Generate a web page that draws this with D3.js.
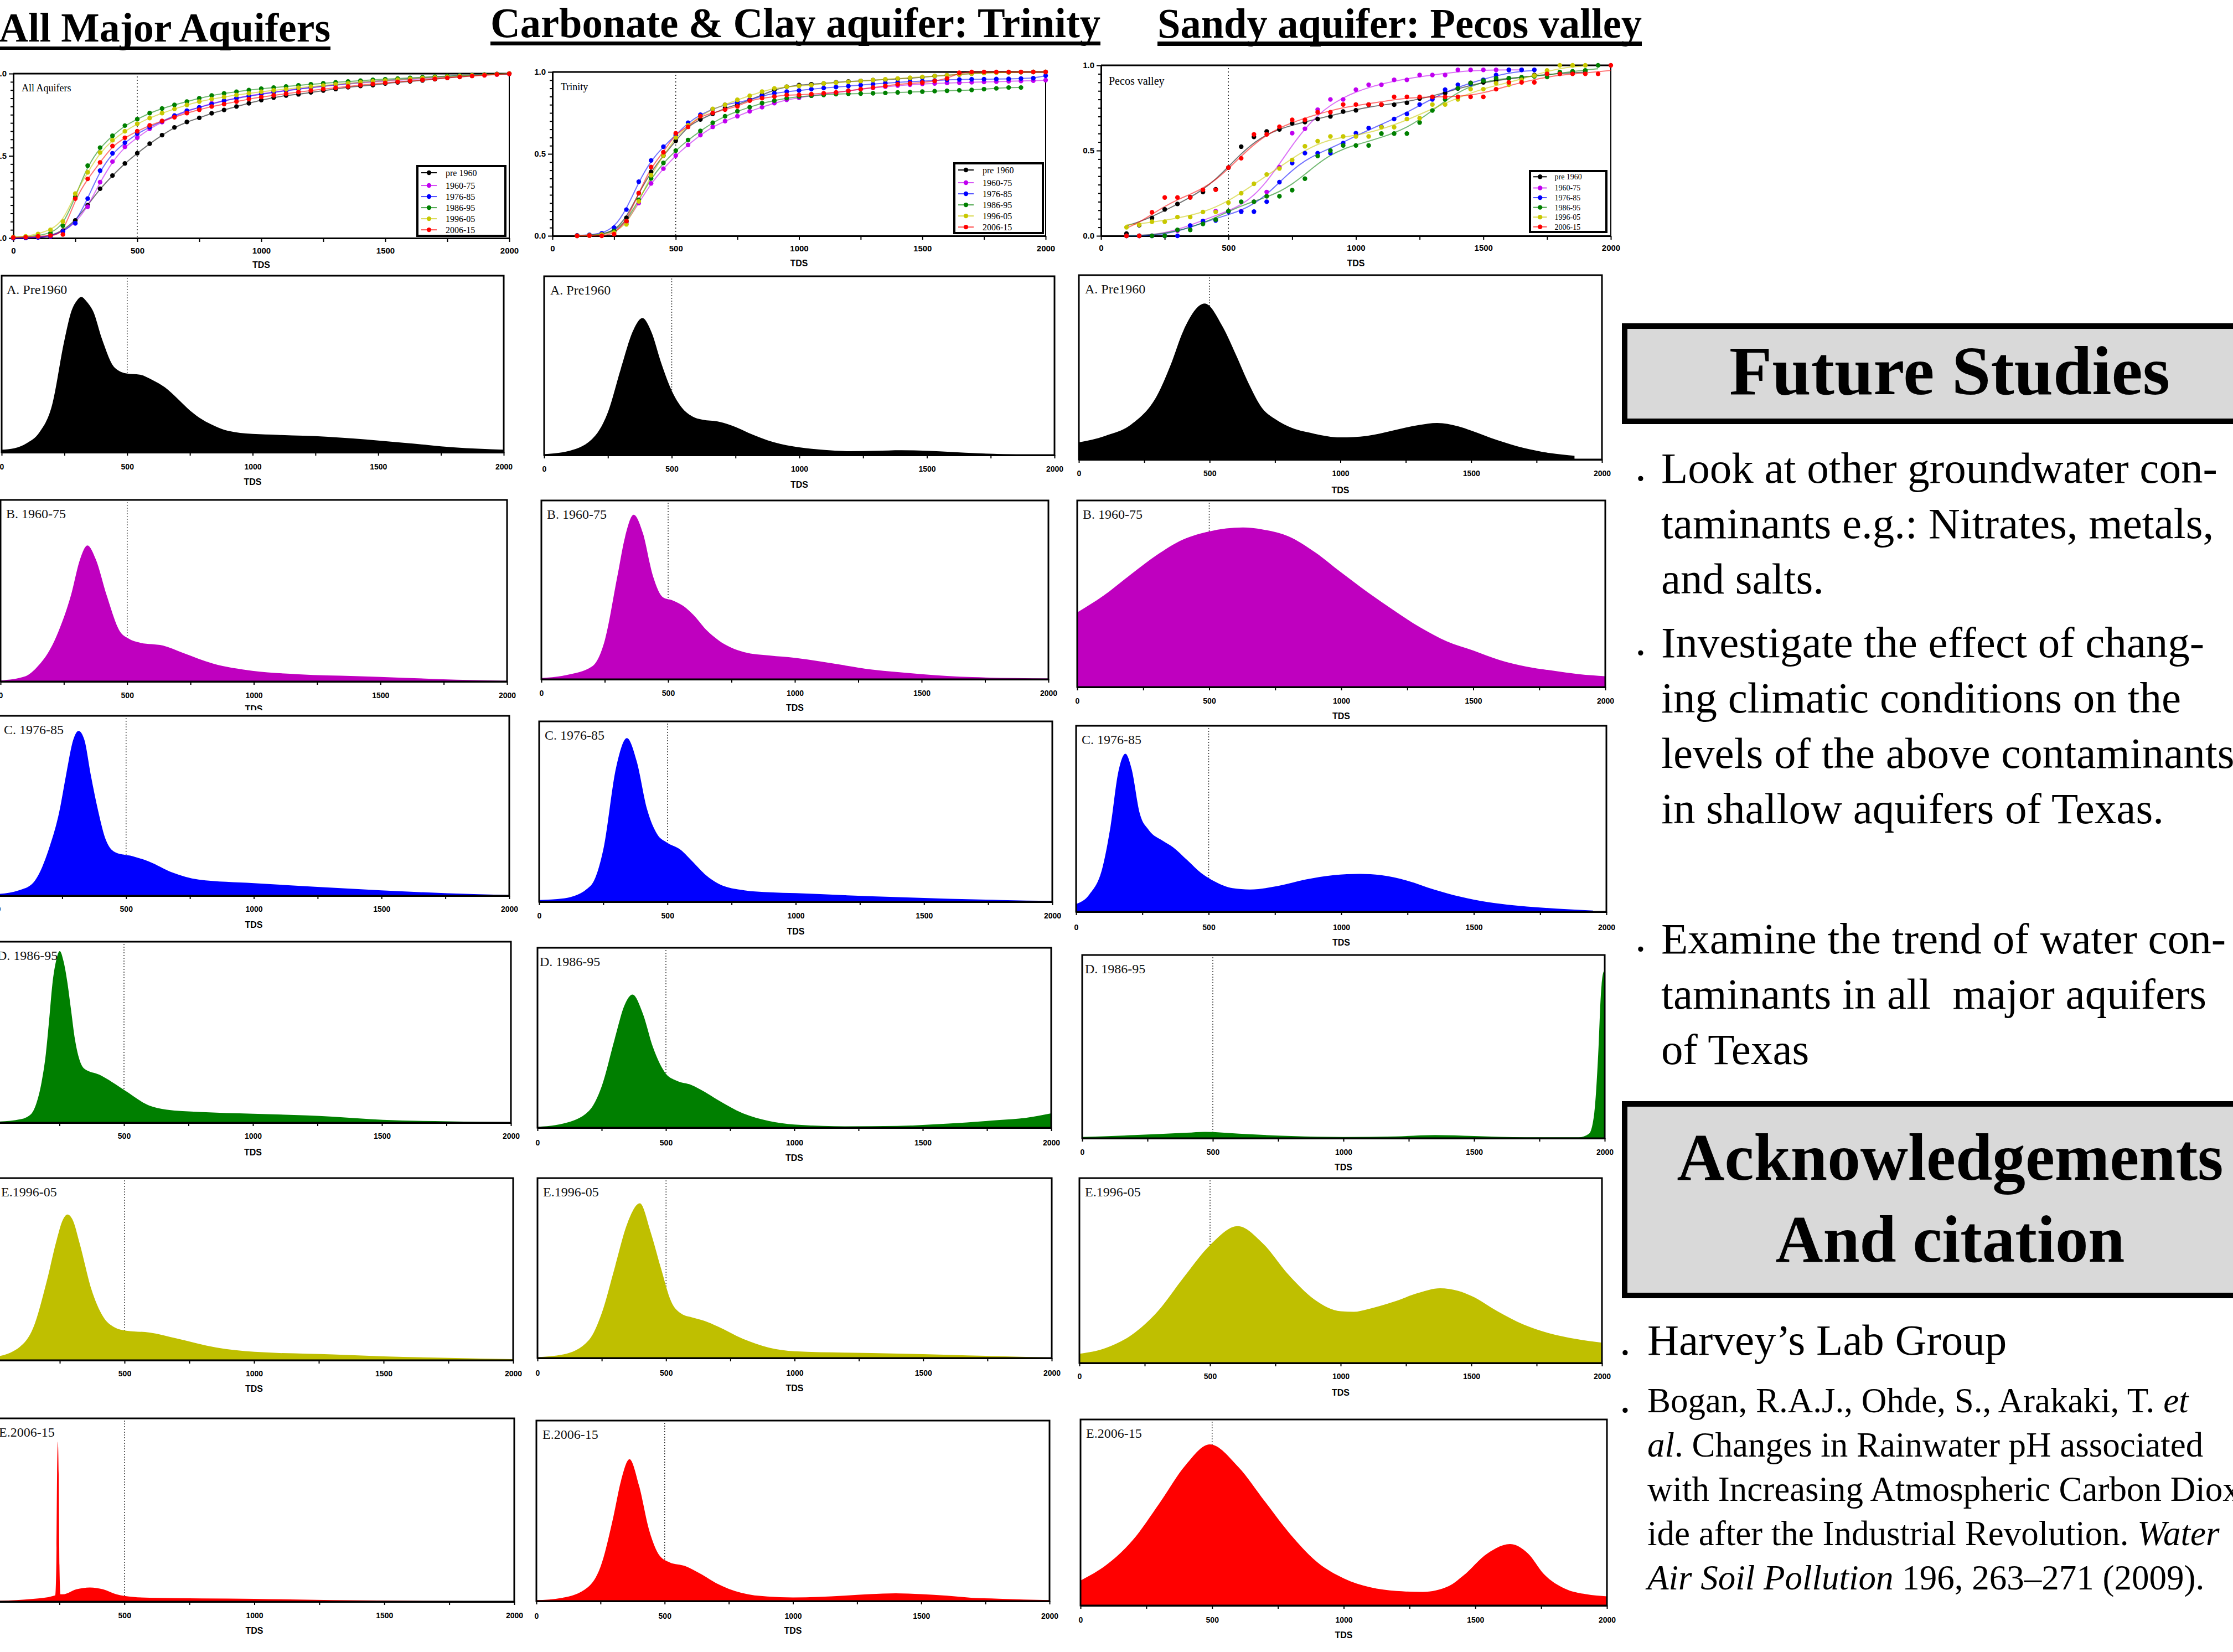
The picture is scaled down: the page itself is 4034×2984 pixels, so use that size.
<!DOCTYPE html>
<html>
<head>
<meta charset="utf-8">
<title>TDS distributions in Texas aquifers</title>
<script src="https://cdn.jsdelivr.net/npm/d3@7/dist/d3.min.js"></script>
<style>
  html, body { margin: 0; padding: 0; background: #ffffff; }
  svg { display: block; }
  text { white-space: pre; }
</style>
</head>
<body>
<svg id="poster" width="4034" height="2984" viewBox="0 0 4034 2984"></svg>
<script>
// ------------------------------------------------------------------
// Data
// ------------------------------------------------------------------
const periods = ["pre 1960", "1960-75", "1976-85", "1986-95", "1996-05", "2006-15"];
const panelTitles = ["A. Pre1960", "B. 1960-75", "C. 1976-85", "D. 1986-95", "E.1996-05", "E.2006-15"];
const headings = ["All Major Aquifers", "Carbonate & Clay aquifer: Trinity", "Sandy aquifer: Pecos valley"];
const insetLabels = ["All Aquifers", "Trinity", "Pecos valley"];

const cdfColors = ["#000000", "#c000f0", "#0000ff", "#008000", "#c8c800", "#ff0000"];
const densityColors = ["#000000", "#bf00bf", "#0000ff", "#007f00", "#bfbf00", "#ff0000"];

const tdsLabelTicks = [0, 500, 1000, 1500, 2000];
const tdsTicks = [0, 250, 500, 750, 1000, 1250, 1500, 1750, 2000];
const cdfYTicks = [0, 0.05, 0.1, 0.15, 0.2, 0.25, 0.3, 0.35, 0.4, 0.45, 0.5,
                   0.55, 0.6, 0.65, 0.7, 0.75, 0.8, 0.85, 0.9, 0.95, 1];
const cdfYLabels = [0, 0.5, 1];

// TDS bins of the cumulative curves
const cdfTds = [0, 50, 100, 150, 200, 250, 300, 350, 400, 450, 500, 550, 600, 650, 700, 750,
                800, 850, 900, 950, 1000, 1050, 1100, 1150, 1200, 1250, 1300, 1350, 1400, 1450,
                1500, 1550, 1600, 1650, 1700, 1750, 1800, 1850, 1900, 1950, 2000];

// Cumulative fraction of wells, all major aquifers (one row per period)
const cdfAll = [
  [0, .002, .005, .013, .045, .107, .20, .30, .38, .454, .516, .574, .626, .673, .706, .731, .759, .779, .80, .82, .839, .854, .867, .874, .886, .897, .906, .917, .925, .93, .94, .947, .953, .959, .966, .975, .981, .987, .992, .998, 1.0],
  [0, .001, .004, .01, .04, .09, .19, .34, .465, .555, .61, .665, .705, .74, .77, .795, .82, .835, .852, .866, .877, .888, .898, .907, .915, .923, .93, .937, .943, .949, .955, .96, .965, .97, .975, .98, .984, .988, .991, .995, .998],
  [0, .001, .004, .012, .04, .09, .24, .41, .515, .58, .635, .675, .71, .745, .775, .795, .815, .835, .85, .862, .875, .886, .896, .906, .915, .924, .932, .94, .947, .953, .959, .965, .97, .975, .98, .984, .988, .991, .994, .997, .999],
  [.005, .008, .015, .03, .075, .25, .44, .55, .622, .684, .723, .76, .788, .81, .83, .85, .867, .88, .89, .90, .908, .915, .922, .929, .935, .941, .947, .952, .957, .962, .966, .97, .974, .978, .982, .985, .988, .991, .994, .997, 1.0],
  [.005, .01, .025, .05, .1, .27, .4, .52, .595, .65, .695, .73, .76, .785, .81, .83, .845, .858, .87, .88, .89, .898, .906, .914, .921, .928, .935, .941, .947, .953, .958, .963, .968, .973, .977, .981, .985, .989, .993, .997, 1.0],
  [.003, .005, .01, .015, .022, .24, .36, .46, .56, .61, .65, .685, .712, .735, .76, .78, .8, .815, .83, .845, .858, .868, .878, .888, .897, .906, .914, .922, .93, .937, .944, .95, .956, .962, .968, .974, .98, .986, .99, .995, .999]
];

// Cumulative fraction of wells, Trinity aquifer
const cdfTrinity = [
  [null, null, .002, .005, .01, .03, .11, .26, .39, .49, .58, .67, .71, .745, .78, .8, .83, .86, .89, .91, .92, .925, .93, .937, .942, .945, .95, .953, .958, .962, .967, .975, .98, .985, .99, .995, .997, .998, .999, 1.0, 1.0],
  [null, null, 0, .002, .008, .025, .08, .2, .32, .41, .49, .555, .615, .665, .7, .73, .76, .785, .81, .83, .842, .855, .865, .875, .885, .895, .903, .91, .917, .922, .927, .93, .933, .935, .937, .939, .941, .943, .945, .947, .95],
  [null, null, .002, .005, .015, .05, .16, .33, .46, .544, .615, .69, .739, .773, .80, .814, .83, .853, .87, .88, .887, .895, .902, .908, .914, .92, .926, .932, .937, .941, .944, .948, .952, .954, .955, .956, .957, .958, .96, .962, .977],
  [null, null, 0, .002, .008, .03, .09, .22, .35, .445, .52, .585, .64, .69, .73, .76, .785, .81, .825, .84, .85, .855, .86, .865, .867, .868, .87, .872, .875, .877, .88, .883, .885, .888, .89, .895, .9, .905, .905, null, null],
  [null, null, 0, .002, .008, .02, .07, .21, .37, .49, .6, .675, .73, .775, .8, .83, .855, .88, .9, .91, .915, .92, .93, .935, .94, .945, .95, .955, .96, .965, .97, .975, .98, .985, .99, .993, .996, .998, .999, 1.0, 1.0],
  [null, null, 0, .002, 0, .01, .09, .26, .42, .51, .626, .665, .73, .75, .77, .79, .825, .84, .85, .86, .86, .865, .87, .875, .885, .895, .905, .915, .925, .93, .935, .945, .96, .995, 1.0, 1.0, 1.0, 1.0, 1.0, 1.0, 1.0]
];

// Cumulative fraction of wells, Pecos valley aquifer
const cdfPecos = [
  [null, null, .013, .062, .105, .155, .187, .227, .257, .273, .40, .523, .58, .612, .624, .66, .667, .685, .70, .729, .736, .769, .769, .769, .78, .805, .813, .837, .864, .897, .90, .911, .924, .924, .943, .95, .951, .959, .967, null, null],
  [null, null, 0, 0, 0, 0, .03, .06, .08, .145, .145, .145, .2, .257, .403, .602, .628, .74, .80, .80, .857, .886, .886, .915, .915, .943, .943, .943, .973, .973, .973, .973, .973, .973, null, null, null, null, null, null, null],
  [null, null, 0, 0, 0, 0, 0, .06, .087, .09, .142, .142, .142, .2, .315, .427, .485, .485, .485, .544, .602, .632, .64, .685, .715, .77, .80, .857, .886, .89, .915, .943, .973, .973, .973, null, null, null, null, null, null],
  [null, null, 0, 0, 0, 0, .035, .035, .07, .095, .145, .2, .2, .232, .232, .268, .335, .468, .5, .53, .53, .53, .6, .6, .6, .665, .735, .80, .865, .895, .91, .925, .925, .93, .935, .932, .96, .965, .97, 1.0, null],
  [null, null, .05, .065, .083, .083, .11, .11, .14, .14, .195, .25, .305, .36, .395, .445, .525, .555, .583, .583, .583, .583, .637, .637, .685, .69, .77, .77, .80, .86, .86, .895, .886, .915, .94, .97, 1.0, 1.0, 1.0, null, null],
  [null, null, 0, 0, .138, .225, .225, .225, .27, .27, .40, .455, .595, .595, .64, .68, .68, .725, .725, .77, .77, .77, .77, .815, .815, .815, .815, .815, .815, .815, .815, .86, .9, .9, .9, .95, .95, .95, .95, .95, 1.0]
];

// Relative density of TDS ([TDS, density]) per period, all major aquifers
const densityAll = [
  [[0,.015],[50,.023],[100,.052],[150,.112],[200,.263],[250,.635],[278,.80],[300,.86],[317,.88],[335,.86],[350,.833],[364,.80],[400,.64],[450,.48],[500,.446],[550,.44],[600,.41],[650,.368],[700,.305],[750,.237],[800,.185],[850,.148],[900,.122],[1000,.104],[1100,.099],[1200,.094],[1300,.088],[1400,.078],[1500,.067],[1600,.054],[1700,.041],[1800,.028],[1900,.02],[2000,.015]],
  [[0,.006],[100,.03],[144,.079],[196,.178],[229,.277],[278,.475],[314,.673],[343,.749],[376,.673],[419,.475],[471,.277],[504,.238],[550,.214],[641,.198],[720,.158],[838,.099],[995,.059],[1178,.04],[1400,.03],[1600,.02],[1800,.01],[2000,.004]],
  [[0,.01],[80,.03],[135,.07],[200,.27],[239,.47],[265,.67],[294,.87],[314,.916],[336,.87],[362,.67],[391,.47],[421,.31],[460,.24],[525,.22],[590,.19],[680,.13],[784,.09],[1000,.07],[1239,.05],[1499,.03],[1758,.014],[2000,.004]],
  [[0,.005],[100,.02],[141,.05],[161,.11],[180,.22],[197,.38],[210,.57],[222,.76],[236,.89],[251,.948],[266,.89],[280,.78],[295,.62],[310,.46],[325,.36],[345,.30],[405,.265],[502,.18],[598,.095],[663,.073],[792,.06],[1000,.05],[1307,.034],[1504,.016],[1755,.008],[2000,.003]],
  [[0,.018],[96,.074],[148,.18],[199,.43],[238,.66],[260,.765],[280,.80],[300,.77],[327,.64],[372,.39],[417,.24],[462,.18],[507,.162],[597,.152],[700,.12],[854,.07],[1002,.046],[1304,.032],[1500,.021],[1752,.013],[2000,.006]],
  [[0,.004],[149,.015],[226,.031],[234,.035],[238,.2],[241,.7],[244,.873],[247,.7],[250,.2],[254,.04],[264,.04],[315,.067],[367,.077],[418,.067],[469,.04],[500,.031],[597,.021],[1000,.015],[1300,.008],[2000,.002]]
];

// Relative density of TDS, Trinity aquifer
const densityTrinity = [
  [[0,.005],[100,.024],[200,.108],[250,.24],[300,.48],[350,.70],[385,.766],[420,.69],[460,.51],[500,.36],[540,.265],[580,.217],[620,.198],[680,.188],[750,.157],[800,.125],[900,.072],[1000,.043],[1100,.029],[1200,.022],[1300,.024],[1400,.027],[1500,.024],[1600,.017],[1700,.01],[1800,.005],[2000,0]],
  [[0,.007],[100,.024],[200,.072],[250,.217],[300,.578],[330,.795],[364,.92],[400,.82],[440,.578],[480,.458],[520,.44],[560,.41],[600,.36],[650,.277],[700,.217],[800,.152],[900,.133],[1000,.12],[1100,.10],[1200,.077],[1300,.055],[1400,.041],[1500,.029],[1700,.012],[2000,.005]],
  [[0,.01],[100,.02],[200,.088],[250,.29],[300,.745],[342,.907],[380,.78],[420,.516],[460,.375],[500,.327],[550,.29],[600,.22],[650,.148],[700,.10],[800,.064],[900,.053],[1000,.048],[1200,.036],[1400,.026],[1600,.017],[1800,.01],[2000,.005]],
  [[0,.005],[100,.023],[200,.093],[250,.23],[300,.49],[340,.685],[370,.74],[410,.635],[450,.446],[500,.30],[540,.262],[600,.237],[650,.20],[700,.156],[800,.08],[900,.038],[1000,.018],[1200,.008],[1400,.01],[1600,.023],[1800,.043],[1900,.055],[2000,.08]],
  [[0,.005],[100,.02],[200,.10],[250,.25],[300,.50],[350,.75],[398,.86],[440,.70],[480,.50],[520,.314],[560,.246],[600,.226],[650,.206],[700,.176],[800,.106],[900,.058],[1000,.038],[1200,.03],[1400,.025],[1600,.018],[1800,.01],[2000,.003]],
  [[0,.005],[100,.018],[200,.076],[250,.19],[300,.466],[330,.667],[363,.786],[400,.64],[440,.39],[480,.252],[520,.214],[580,.194],[640,.151],[700,.10],[800,.045],[900,.025],[1000,.02],[1100,.023],[1200,.03],[1300,.038],[1400,.043],[1500,.038],[1600,.03],[1700,.018],[1800,.013],[2000,.005]]
];

// Relative density of TDS, Pecos valley aquifer
const densityPecos = [
  [[0,.093],[100,.128],[200,.19],[300,.35],[350,.51],[400,.70],[481,.846],[550,.72],[600,.57],[650,.41],[700,.28],[750,.22],[800,.18],[900,.14],[1000,.12],[1100,.128],[1200,.157],[1300,.187],[1370,.198],[1450,.18],[1500,.157],[1600,.105],[1700,.063],[1800,.035],[1895,.02]],
  [[0,.40],[100,.49],[200,.60],[300,.706],[400,.79],[500,.834],[628,.855],[700,.845],[800,.808],[900,.723],[1000,.614],[1100,.508],[1200,.41],[1300,.319],[1400,.245],[1500,.196],[1600,.145],[1700,.11],[1800,.088],[1900,.069],[2000,.058]],
  [[0,.042],[50,.093],[100,.24],[130,.46],[159,.75],[186,.85],[209,.77],[240,.53],[274,.44],[327,.382],[366,.347],[419,.278],[472,.208],[524,.162],[590,.127],[656,.12],[762,.139],[867,.174],[972,.197],[1070,.204],[1150,.197],[1250,.167],[1350,.12],[1450,.081],[1550,.053],[1650,.035],[1750,.023],[1850,.014],[1950,.007]],
  [[0,.007],[200,.017],[400,.03],[470,.035],[600,.025],[800,.012],[1000,.007],[1200,.01],[1350,.017],[1500,.012],[1700,.005],[1900,.005],[1940,.025],[1960,.136],[1975,.457],[1985,.778],[1995,.906],[2000,.914]],
  [[0,.05],[100,.081],[200,.152],[300,.28],[400,.465],[500,.637],[606,.74],[700,.65],[800,.478],[900,.343],[1000,.28],[1050,.277],[1100,.29],[1200,.33],[1300,.38],[1380,.404],[1450,.39],[1500,.363],[1600,.28],[1700,.208],[1800,.16],[1900,.13],[2000,.11]],
  [[0,.134],[100,.22],[200,.354],[300,.55],[400,.756],[491,.866],[600,.744],[700,.56],[800,.378],[900,.232],[1000,.146],[1100,.098],[1200,.078],[1300,.073],[1400,.105],[1453,.159],[1546,.28],[1632,.33],[1700,.28],[1760,.17],[1850,.085],[1920,.061],[2000,.049]]
];

// Side-column text
const futureHeading = "Future Studies";
const futureStudies = [
  ["Look at other groundwater con-", "taminants e.g.: Nitrates, metals,", "and salts."],
  ["Investigate the effect of chang-", "ing climatic conditions on the", "levels of the above contaminants", "in shallow aquifers of Texas."],
  ["Examine the trend of water con-", "taminants in all  major aquifers", "of Texas"]
];
const ackHeading = ["Acknowledgements", "And citation"];
const ackGroup = "Harvey\u2019s Lab Group";
const citation = [
  [["Bogan, R.A.J., Ohde, S., Arakaki, T. ", false], ["et", true]],
  [["al", true], [". Changes in Rainwater pH associated", false]],
  [["with Increasing Atmospheric Carbon Diox-", false]],
  [["ide after the Industrial Revolution. ", false], ["Water", true]],
  [["Air Soil Pollution", true], [" 196, 263\u2013271 (2009).", false]]
];

// ------------------------------------------------------------------
// Layout
// ------------------------------------------------------------------
const SERIF = "'Liberation Serif','Times New Roman',serif";
const SANS = "'Liberation Sans',Arial,Helvetica,sans-serif";

const headingLayout = [
  { x: -2,   base: 75, size: 74, len: 599,  ulY: 84, ulH: 6 },
  { x: 886,  base: 67, size: 76, len: 1102, ulY: 75, ulH: 7 },
  { x: 2091, base: 68, size: 76, len: 875,  ulY: 75, ulH: 8 }
];

const cdfLayout = [
  { x0: 24,   x1: 920,  yTop: 133, yBot: 430, labelY: 452, tdsY: 478, insetX: 39,   insetY: 159, insetSize: 18,
    legend: { x: 752,  y: 298, w: 163, h: 130, font: 16 }, smooth: 0 },
  { x0: 998,  x1: 1889, yTop: 130, yBot: 426, labelY: 448, tdsY: 475, insetX: 1013, insetY: 157, insetSize: 18,
    legend: { x: 1722, y: 293, w: 164, h: 130, font: 16 }, smooth: 0 },
  { x0: 1989, x1: 2910, yTop: 118, yBot: 426, labelY: 447, tdsY: 475, insetX: 2003, insetY: 146, insetSize: 20,
    legend: { x: 2762, y: 307, w: 142, h: 114, font: 14 }, smooth: 1.6 }
];

const densityLayout = [
  [
    { x0: 3,   x1: 910, top: 498,  bottom: 817,  labelY: 843,  tdsY: 870,  titleX: 12 },
    { x0: 1,   x1: 916, top: 903,  bottom: 1231, labelY: 1256, tdsY: 1280, titleX: 11 },
    { x0: -3,  x1: 920, top: 1293, bottom: 1618, labelY: 1642, tdsY: 1670, titleX: 7 },
    { x0: -9,  x1: 923, top: 1701, bottom: 2028, labelY: 2052, tdsY: 2081, titleX: -5 },
    { x0: -9,  x1: 927, top: 2128, bottom: 2457, labelY: 2481, tdsY: 2508, titleX: 2 },
    { x0: -10, x1: 929, top: 2562, bottom: 2893, labelY: 2918, tdsY: 2945, titleX: -2 }
  ],
  [
    { x0: 983, x1: 1905, top: 499,  bottom: 822,  labelY: 847,  tdsY: 875,  titleX: 994 },
    { x0: 978, x1: 1894, top: 904,  bottom: 1227, labelY: 1252, tdsY: 1278, titleX: 988 },
    { x0: 974, x1: 1901, top: 1303, bottom: 1629, labelY: 1654, tdsY: 1682, titleX: 984 },
    { x0: 971, x1: 1899, top: 1712, bottom: 2037, labelY: 2064, tdsY: 2091, titleX: 975 },
    { x0: 971, x1: 1900, top: 2128, bottom: 2453, labelY: 2480, tdsY: 2507, titleX: 981 },
    { x0: 969, x1: 1896, top: 2566, bottom: 2892, labelY: 2919, tdsY: 2945, titleX: 980 }
  ],
  [
    { x0: 1949, x1: 2894, top: 497,  bottom: 830,  labelY: 855,  tdsY: 885,  titleX: 1960 },
    { x0: 1946, x1: 2900, top: 904,  bottom: 1241, labelY: 1266, tdsY: 1293, titleX: 1956 },
    { x0: 1944, x1: 2902, top: 1311, bottom: 1647, labelY: 1675, tdsY: 1702, titleX: 1954 },
    { x0: 1955, x1: 2899, top: 1725, bottom: 2056, labelY: 2081, tdsY: 2108, titleX: 1960 },
    { x0: 1950, x1: 2894, top: 2128, bottom: 2462, labelY: 2486, tdsY: 2515, titleX: 1960 },
    { x0: 1952, x1: 2903, top: 2564, bottom: 2900, labelY: 2926, tdsY: 2953, titleX: 1962 }
  ]
];

// ------------------------------------------------------------------
// Drawing
// ------------------------------------------------------------------
const svg = d3.select("#poster");
svg.append("rect").attr("width", 4034).attr("height", 2984).attr("fill", "#ffffff");

function styleAxis(g, fontSize) {
  g.attr("font-family", null).attr("font-size", null);
  g.select(".domain").attr("stroke", "#000").attr("stroke-width", 3);
  g.selectAll(".tick line").attr("stroke", "#000").attr("stroke-width", 2);
  g.selectAll(".tick text")
    .attr("font-family", SANS).attr("font-weight", "bold")
    .attr("font-size", fontSize).attr("fill", "#000");
}

// Gaussian-weighted running mean over the defined bins (used as a fitted trend line)
function smoothSeries(vals, sigma) {
  if (!sigma) return vals;
  const r = Math.ceil(sigma * 2);
  return vals.map((v, k) => {
    if (v == null) return null;
    let sw = 0, s = 0;
    for (let j = -r; j <= r; j++) {
      const u = vals[k + j];
      if (u == null) continue;
      const w = Math.exp(-(j * j) / (2 * sigma * sigma));
      sw += w; s += w * u;
    }
    return s / sw;
  });
}

// Column headings
headings.forEach((h, i) => {
  const L = headingLayout[i];
  svg.append("text")
    .attr("x", L.x).attr("y", L.base)
    .attr("font-family", SERIF).attr("font-weight", "bold").attr("font-size", L.size)
    .attr("textLength", L.len).attr("lengthAdjust", "spacingAndGlyphs")
    .text(h);
  svg.append("rect").attr("x", L.x).attr("y", L.ulY).attr("width", L.len).attr("height", L.ulH).attr("fill", "#000");
});

// Cumulative distribution charts
function drawCdf(L, inset, series) {
  const g = svg.append("g");
  const x = d3.scaleLinear().domain([0, 2000]).range([L.x0, L.x1]);
  const y = d3.scaleLinear().domain([0, 1]).range([L.yBot, L.yTop]);

  g.append("line").attr("x1", L.x0).attr("x2", L.x1).attr("y1", y(1)).attr("y2", y(1))
    .attr("stroke", "#000").attr("stroke-width", 3);
  g.append("line").attr("x1", L.x1).attr("x2", L.x1).attr("y1", y(1)).attr("y2", y(0))
    .attr("stroke", "#000").attr("stroke-width", 2);

  g.append("line").attr("x1", x(500)).attr("x2", x(500)).attr("y1", y(1) + 5).attr("y2", y(0))
    .attr("stroke", "#222").attr("stroke-width", 1.5).attr("stroke-dasharray", "2,4");

  const xa = g.append("g").attr("transform", `translate(0,${L.yBot})`)
    .call(d3.axisBottom(x).tickValues(tdsTicks).tickSize(7).tickSizeOuter(0)
      .tickPadding(L.labelY - L.yBot - 7 - 5)
      .tickFormat(d => tdsLabelTicks.includes(d) ? String(d) : ""));
  styleAxis(xa, 15);

  g.append("text").attr("x", (L.x0 + L.x1) / 2).attr("y", L.tdsY).attr("dy", "0.36em")
    .attr("text-anchor", "middle").attr("font-family", SANS).attr("font-weight", "bold")
    .attr("font-size", 16).text("TDS");

  const ya = g.append("g").attr("transform", `translate(${L.x0},0)`)
    .call(d3.axisLeft(y).tickValues(cdfYTicks).tickSize(8).tickSizeOuter(0).tickPadding(4)
      .tickFormat(d => cdfYLabels.includes(d) ? d3.format(".1f")(d) : ""));
  styleAxis(ya, 15);
  ya.selectAll(".tick line").attr("x2", d => cdfYLabels.includes(d) ? -8 : -5);

  g.append("text").attr("x", L.insetX).attr("y", L.insetY).attr("dy", "0.35em")
    .attr("font-family", SERIF).attr("font-size", L.insetSize).text(inset);

  const line = d3.line()
    .defined(d => d[1] != null)
    .x(d => x(d[0])).y(d => y(d[1]))
    .curve(d3.curveBasis);

  series.forEach((vals, i) => {
    const fit = smoothSeries(vals, L.smooth);
    const pts = cdfTds.map((t, k) => [t, fit[k]]);
    g.append("path").attr("d", line(pts)).attr("fill", "none")
      .attr("stroke", cdfColors[i]).attr("stroke-width", 2).attr("stroke-opacity", 0.55);
  });
  series.forEach((vals, i) => {
    const pts = cdfTds.map((t, k) => [t, vals[k]]).filter(d => d[1] != null);
    g.append("g").selectAll("circle").data(pts).join("circle")
      .attr("cx", d => x(d[0])).attr("cy", d => y(d[1])).attr("r", 4.2)
      .attr("fill", cdfColors[i]);
  });

  // legend
  const lg = L.legend;
  const k = lg.h / 130;
  const leg = g.append("g");
  leg.append("rect").attr("x", lg.x + 2).attr("y", lg.y + 2).attr("width", lg.w - 4).attr("height", lg.h - 4)
    .attr("fill", "#fff").attr("stroke", "#000").attr("stroke-width", 4);
  periods.forEach((p, i) => {
    const ry = lg.y + lg.h * (i === 0 ? 0.108 : 0.285 + (i - 1) * 0.154);
    const mx = lg.x + 23 * k;
    leg.append("line").attr("x1", mx - 14 * k).attr("x2", mx + 14 * k).attr("y1", ry).attr("y2", ry)
      .attr("stroke", cdfColors[i]).attr("stroke-width", 2).attr("stroke-opacity", i === 0 ? 1 : 0.7);
    leg.append("circle").attr("cx", mx).attr("cy", ry).attr("r", 4.2).attr("fill", cdfColors[i]);
    leg.append("text").attr("x", lg.x + 53 * k).attr("y", ry).attr("dy", "0.35em")
      .attr("font-family", SERIF).attr("font-size", lg.font).text(p);
  });
}

drawCdf(cdfLayout[0], insetLabels[0], cdfAll);
drawCdf(cdfLayout[1], insetLabels[1], cdfTrinity);
drawCdf(cdfLayout[2], insetLabels[2], cdfPecos);

// Density panels
function drawDensity(L, title, pts, color) {
  const g = svg.append("g");
  const x = d3.scaleLinear().domain([0, 2000]).range([L.x0, L.x1]);
  const y = d3.scaleLinear().domain([0, 1]).range([L.bottom, L.top]);

  g.append("rect").attr("x", L.x0 - 3).attr("y", L.top - 10)
    .attr("width", L.x1 - L.x0 + 6).attr("height", L.bottom - L.top + 10).attr("fill", "#fff");

  g.append("line").attr("x1", x(500)).attr("x2", x(500)).attr("y1", L.top + 4).attr("y2", L.bottom)
    .attr("stroke", "#333").attr("stroke-width", 1.5).attr("stroke-dasharray", "2,3");

  const area = d3.area()
    .x(d => x(d[0])).y0(y(0)).y1(d => y(d[1]))
    .curve(d3.curveMonotoneX);
  g.append("path").datum(pts).attr("d", area).attr("fill", color);

  g.append("rect").attr("x", L.x0).attr("y", L.top)
    .attr("width", L.x1 - L.x0).attr("height", L.bottom - L.top)
    .attr("fill", "none").attr("stroke", "#000").attr("stroke-width", 3);

  const xa = g.append("g").attr("transform", `translate(0,${L.bottom})`)
    .call(d3.axisBottom(x).tickValues(tdsTicks).tickSize(6).tickSizeOuter(0)
      .tickPadding(L.labelY - L.bottom - 6 - 5)
      .tickFormat(d => tdsLabelTicks.includes(d) ? String(d) : ""));
  styleAxis(xa, 14);

  g.append("text").attr("x", (L.x0 + L.x1) / 2).attr("y", L.tdsY).attr("dy", "0.36em")
    .attr("text-anchor", "middle").attr("font-family", SANS).attr("font-weight", "bold")
    .attr("font-size", 16).text("TDS");

  g.append("text").attr("x", L.titleX).attr("y", L.top + 33)
    .attr("font-family", SERIF).attr("font-size", 24).attr("fill", "#111").text(title);
}

[densityAll, densityTrinity, densityPecos].forEach((col, c) => {
  col.forEach((pts, i) => drawDensity(densityLayout[c][i], panelTitles[i], pts, densityColors[i]));
});

// Side column: future studies
const side = svg.append("g");
side.append("rect").attr("x", 2935).attr("y", 589).attr("width", 1200).attr("height", 172)
  .attr("fill", "#d9d9d9").attr("stroke", "#000").attr("stroke-width", 10);
side.append("text").attr("x", 3522).attr("y", 712).attr("text-anchor", "middle")
  .attr("font-family", SERIF).attr("font-weight", "bold").attr("font-size", 124)
  .attr("textLength", 796).attr("lengthAdjust", "spacingAndGlyphs")
  .text(futureHeading);

const blockBase = [872, 1187, 1722];
futureStudies.forEach((block, b) => {
  side.append("text").attr("x", 2954).attr("y", blockBase[b] - 4)
    .attr("font-family", SERIF).attr("font-size", 79).text(".");
  block.forEach((ln, j) => {
    side.append("text").attr("x", 3001).attr("y", blockBase[b] + j * 100)
      .attr("font-family", SERIF).attr("font-size", 79).text(ln);
  });
});

// Side column: acknowledgements
side.append("rect").attr("x", 2935).attr("y", 1994).attr("width", 1200).attr("height", 346)
  .attr("fill", "#d9d9d9").attr("stroke", "#000").attr("stroke-width", 10);
ackHeading.forEach((t, i) => {
  side.append("text").attr("x", 3523).attr("y", i === 0 ? 2131 : 2279).attr("text-anchor", "middle")
    .attr("font-family", SERIF).attr("font-weight", "bold").attr("font-size", 120)
    .attr("textLength", i === 0 ? 987 : 631).attr("lengthAdjust", "spacingAndGlyphs")
    .text(t);
});

side.append("text").attr("x", 2926).attr("y", 2447).attr("font-family", SERIF).attr("font-size", 79).text(".");
side.append("text").attr("x", 2976).attr("y", 2447).attr("font-family", SERIF).attr("font-size", 79).text(ackGroup);

side.append("text").attr("x", 2926).attr("y", 2551).attr("font-family", SERIF).attr("font-size", 79).text(".");
citation.forEach((segs, j) => {
  const t = side.append("text").attr("x", 2976).attr("y", 2551 + j * 80)
    .attr("font-family", SERIF).attr("font-size", 63);
  segs.forEach(([s, it]) => {
    t.append("tspan").attr("font-style", it ? "italic" : "normal").text(s);
  });
});
</script>
</body>
</html>
